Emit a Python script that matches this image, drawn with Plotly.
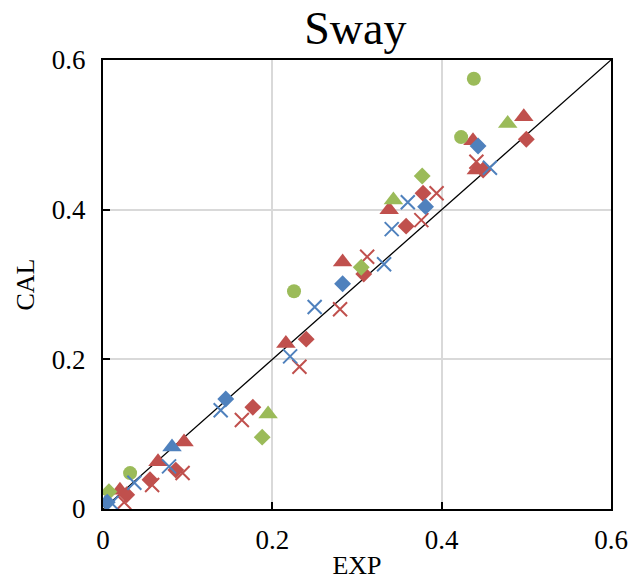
import plotly.graph_objects as go

# ---- data (EXP, CAL) ----
blue_diamond_x = [0.005, 0.145, 0.283, 0.381, 0.443]
blue_diamond_y = [0.009, 0.147, 0.301, 0.404, 0.485]

blue_cross_x = [0.010, 0.037, 0.078, 0.139, 0.221, 0.250, 0.332, 0.341, 0.360, 0.457]
blue_cross_y = [0.008, 0.035, 0.057, 0.132, 0.204, 0.270, 0.327, 0.374, 0.410, 0.456]

blue_tri_x = [0.0815]
blue_tri_y = [0.083]

red_diamond_x = [0.028, 0.0555, 0.086, 0.177, 0.240, 0.308, 0.358, 0.378, 0.449, 0.500]
red_diamond_y = [0.019, 0.039, 0.052, 0.136, 0.227, 0.314, 0.378, 0.422, 0.453, 0.494]

red_cross_x = [0.025, 0.058, 0.094, 0.164, 0.232, 0.280, 0.312, 0.376, 0.394, 0.441]
red_cross_y = [0.009, 0.032, 0.048, 0.119, 0.190, 0.267, 0.337, 0.386, 0.422, 0.464]

red_tri_x = [0.020, 0.065, 0.0957, 0.216, 0.283, 0.338, 0.437, 0.441, 0.497]
red_tri_y = [0.025, 0.063, 0.0895, 0.221, 0.330, 0.400, 0.492, 0.453, 0.524]

green_diamond_x = [0.007, 0.188, 0.305, 0.377]
green_diamond_y = [0.023, 0.096, 0.323, 0.445]

green_tri_x = [0.195, 0.343, 0.478]
green_tri_y = [0.127, 0.413, 0.515]

green_circle_x = [0.032, 0.2256, 0.423, 0.438]
green_circle_y = [0.048, 0.291, 0.497, 0.575]

diag = [0, 0.6]
tick_vals = [0, 0.2, 0.4, 0.6]
tick_text = ["0", "0.2", "0.4", "0.6"]

BLUE = "#4F81BD"
RED = "#C0504D"
GREEN = "#9BBB59"
FONT = "Liberation Serif, Times New Roman, serif"

fig = go.Figure()
fig.add_trace(go.Scatter(x=diag, y=diag, mode="lines",
                         line=dict(color="black", width=1.3), hoverinfo="skip"))

def add(xs, ys, color, symbol, size):
    if "x-thin" in symbol:
        marker = dict(symbol=symbol, size=size, color=color,
                      line=dict(color=color, width=2))
    else:
        marker = dict(symbol=symbol, size=size, color=color, line=dict(width=0))
    fig.add_trace(go.Scatter(x=xs, y=ys, mode="markers", marker=marker))

add(red_cross_x, red_cross_y, RED, "x-thin-open", 14)
add(red_tri_x, red_tri_y, RED, "triangle-up", 17)
add(red_diamond_x, red_diamond_y, RED, "diamond", 13)
add(green_diamond_x, green_diamond_y, GREEN, "diamond", 13)
add(green_tri_x, green_tri_y, GREEN, "triangle-up", 17)
add(green_circle_x, green_circle_y, GREEN, "circle", 14)
add(blue_cross_x, blue_cross_y, BLUE, "x-thin-open", 14)
add(blue_tri_x, blue_tri_y, BLUE, "triangle-up", 17)
add(blue_diamond_x, blue_diamond_y, BLUE, "diamond", 13)

axis_common = dict(
    range=[0, 0.6], tickvals=tick_vals, ticktext=tick_text,
    showgrid=True, gridcolor="#D9D9D9", gridwidth=1.5,
    zeroline=False, showline=True, linecolor="black", linewidth=2,
    mirror=True, ticks="inside", ticklen=7, tickwidth=1.5, tickcolor="black",
    tickfont=dict(family=FONT, size=27, color="black"),
    automargin=False,
)

fig.update_layout(
    width=629, height=580,
    margin=dict(l=103, r=18, t=60, b=71),
    paper_bgcolor="white", plot_bgcolor="white",
    showlegend=False,
    title=dict(text="Sway", x=0.565, xanchor="center", y=0.952, yanchor="middle",
               font=dict(family=FONT, size=46, color="black"), automargin=False),
    xaxis=dict(**axis_common, ticklabelstandoff=6, title=dict(text="EXP", standoff=6,
               font=dict(family=FONT, size=26, color="black"))),
    yaxis=dict(**axis_common, ticklabelstandoff=10, title=dict(text="CAL", standoff=10,
               font=dict(family=FONT, size=26, color="black"))),
)

fig.write_html("out.html")
